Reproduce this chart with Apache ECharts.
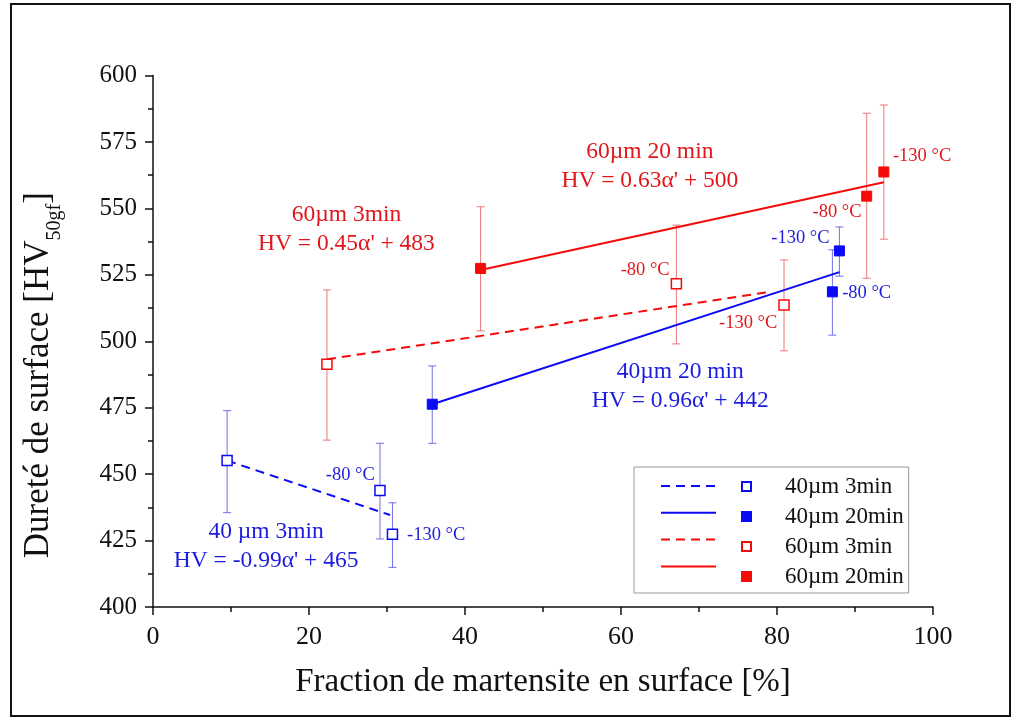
<!DOCTYPE html>
<html>
<head>
<meta charset="utf-8">
<script src="https://cdn.jsdelivr.net/npm/echarts@6/dist/echarts.min.js"></script>
<style>
  html, body { margin: 0; padding: 0; background: #fff; }
  #chart { width: 1016px; height: 723px; }
</style>
</head>
<body>
<div id="chart"></div>
<script>
// measured points: x = martensite fraction (%), y = hardness, lo/hi = error bar ends
const blue3X = [9.5, 29.1, 30.7];
const blue3Y = [455.1, 443.8, 427.4];
const blue3Lo = [435.5, 425.6, 414.9];
const blue3Hi = [473.9, 461.6, 439.2];

const blue20X = [35.8, 87.1, 88.0];
const blue20Y = [476.3, 518.6, 534.0];
const blue20Lo = [461.6, 502.3, 524.5];
const blue20Hi = [490.7, 534.4, 543.0];

const red3X = [22.3, 67.1, 80.9];
const red3Y = [491.3, 521.6, 513.6];
const red3Lo = [462.8, 499.0, 496.4];
const red3Hi = [519.3, 543.7, 530.6];

const red20X = [42.0, 91.5, 93.7];
const red20Y = [527.4, 554.6, 563.7];
const red20Lo = [503.9, 523.7, 538.4];
const red20Hi = [550.6, 585.8, 588.9];

// fit line end points
const fitBlue3 = [[9.5, 455.1], [30.4, 434.6]];
const fitBlue20 = [[35.8, 476.3], [88.0, 526.0]];
const fitRed3 = [[22.3, 493.2], [79.1, 518.6]];
const fitRed20 = [[42.0, 526.8], [93.7, 559.8]];

// annotations [x, y, text]
const blueNotes = [
  [14.5, 422.8, '40 µm 3min\nHV = -0.99α\' + 465'],
  [67.6, 483.2, '40µm 20 min\nHV = 0.96α\' + 442']
];
const redNotes = [
  [24.8, 542.2, '60µm 3min\nHV = 0.45α\' + 483'],
  [63.7, 565.7, '60µm 20 min\nHV = 0.63α\' + 500']
];
const blueTemps = [
  [25.3, 449.7, '-80 °C'],
  [36.3, 427.1, '-130 °C'],
  [83.0, 538.7, '-130 °C'],
  [91.5, 518.0, '-80 °C']
];
const redTemps = [
  [63.1, 526.8, '-80 °C'],
  [76.3, 506.8, '-130 °C'],
  [87.7, 548.7, '-80 °C'],
  [98.6, 569.5, '-130 °C']
];

const xTicks = [0, 20, 40, 60, 80, 100];
const yTicks = [400, 425, 450, 475, 500, 525, 550, 575, 600];

const seriesNames = ['40µm 3min', '40µm 20min', '60µm 3min', '60µm 20min'];

const FONT = "'Liberation Serif', 'Times New Roman', serif";
const BLUE = '#0a0af5';
const RED = '#f50a0a';
const BLUE_TXT = '#1c1cdc';
const RED_TXT = '#e2161a';
const BLUE_ERR = '#7070e6';
const RED_ERR = '#ea7878';

let chart = echarts.init(document.getElementById('chart'), null, { renderer: 'canvas' });

let errorBars = (xs, lo, hi, color) => ({
  type: 'custom',
  z: 1,
  silent: true,
  data: xs.map((x, i) => [x, lo[i], hi[i]]),
  encode: { x: 0, y: [1, 2] },
  renderItem: (params, api) => {
    let top = api.coord([api.value(0), api.value(2)]);
    let bot = api.coord([api.value(0), api.value(1)]);
    let w = 4;
    let st = { stroke: color, lineWidth: 1 };
    return {
      type: 'group',
      children: [
        { type: 'line', shape: { x1: top[0], y1: top[1], x2: bot[0], y2: bot[1] }, style: st },
        { type: 'line', shape: { x1: top[0] - w, y1: top[1], x2: top[0] + w, y2: top[1] }, style: st },
        { type: 'line', shape: { x1: bot[0] - w, y1: bot[1], x2: bot[0] + w, y2: bot[1] }, style: st }
      ]
    };
  }
});

let points = (name, xs, ys, color, open) => ({
  name: name,
  type: 'scatter',
  z: 4,
  symbol: 'rect',
  symbolSize: 10,
  data: xs.map((x, i) => [x, ys[i]]),
  itemStyle: open
    ? { color: '#fff', borderColor: color, borderWidth: 1.5, opacity: 1 }
    : { color: color, borderColor: color, borderWidth: 1, opacity: 1 }
});

let fitLine = (name, pts, color, dashed) => ({
  name: name,
  type: 'line',
  z: 3,
  symbol: 'none',
  silent: true,
  data: pts,
  lineStyle: { color: color, width: 2, type: dashed ? [9, 6] : 'solid' },
  itemStyle: { color: color }
});

let notes = (items, color, size, lh) => ({
  type: 'scatter',
  z: 5,
  silent: true,
  symbolSize: 0,
  itemStyle: { opacity: 1 },
  data: items.map(d => ({ value: [d[0], d[1]], text: d[2] })),
  label: {
    show: true,
    position: 'inside',
    formatter: p => p.data.text,
    color: color,
    opacity: 1,
    fontFamily: FONT,
    fontSize: size,
    lineHeight: lh,
    align: 'center',
    verticalAlign: 'middle'
  }
});

let options = {
  backgroundColor: '#fff',
  animation: false,
  grid: { left: 153, right: 83, top: 75.5, bottom: 116 },
  xAxis: {
    type: 'value',
    min: 0,
    max: 100,
    interval: 20,
    name: 'Fraction de martensite en surface [%]',
    nameLocation: 'middle',
    nameGap: 59,
    nameTextStyle: { fontFamily: FONT, fontSize: 33, color: '#111' },
    axisLine: { lineStyle: { color: '#111', width: 1.5 } },
    axisTick: { inside: false, length: 8, lineStyle: { color: '#111', width: 1.5 } },
    minorTick: { show: true, splitNumber: 2, length: 5, lineStyle: { color: '#111', width: 1.5 } },
    splitLine: { show: false },
    axisLabel: {
      margin: 17,
      fontFamily: FONT,
      fontSize: 26,
      color: '#111',
      formatter: v => (xTicks.includes(v) ? String(v) : '')
    }
  },
  yAxis: {
    type: 'value',
    min: 400,
    max: 600,
    interval: 25,
    name: '{a|Dureté de surface [HV}{s|50gf}{a|]}',
    nameLocation: 'middle',
    nameGap: 88,
    nameRotate: 90,
    nameTextStyle: {
      color: '#111',
      padding: [0, 68, 0, 0],
      rich: {
        a: { fontFamily: FONT, fontSize: 35, color: '#111', verticalAlign: 'bottom', padding: [0, 0, 9, 0] },
        s: { fontFamily: FONT, fontSize: 20, color: '#111', verticalAlign: 'bottom' }
      }
    },
    axisLine: { show: true, lineStyle: { color: '#111', width: 1.5 } },
    axisTick: { show: true, inside: false, length: 8, lineStyle: { color: '#111', width: 1.5 } },
    minorTick: { show: true, splitNumber: 2, length: 5, lineStyle: { color: '#111', width: 1.5 } },
    splitLine: { show: false },
    axisLabel: {
      margin: 16,
      fontFamily: FONT,
      fontSize: 25,
      color: '#111',
      formatter: v => (yTicks.includes(v) ? String(v) : '')
    }
  },
  legend: [
    {
      // squares + names, box drawn round both legends
      orient: 'vertical',
      left: 634,
      top: 467,
      padding: [8, 5, 5, 107],
      itemWidth: 9,
      itemHeight: 9,
      itemGap: 7,
      borderColor: '#999',
      borderWidth: 1,
      selectedMode: false,
      data: seriesNames,
      textStyle: { fontFamily: FONT, fontSize: 23, lineHeight: 22, color: '#111', padding: [0, 0, 0, 29] }
    },
    {
      // line samples
      orient: 'vertical',
      left: 660,
      top: 475,
      padding: 0,
      itemWidth: 55,
      itemHeight: 22,
      itemGap: 7,
      selectedMode: false,
      data: seriesNames.map(n => 'fit ' + n),
      formatter: () => '',
      itemStyle: { opacity: 0 },
      textStyle: { fontSize: 1 }
    }
  ],
  graphic: [
    {
      type: 'rect',
      silent: true,
      shape: { x: 11, y: 4, width: 999, height: 712 },
      style: { fill: 'none', stroke: '#111', lineWidth: 2 }
    }
  ],
  series: [
    errorBars(blue3X, blue3Lo, blue3Hi, BLUE_ERR),
    errorBars(blue20X, blue20Lo, blue20Hi, BLUE_ERR),
    errorBars(red3X, red3Lo, red3Hi, RED_ERR),
    errorBars(red20X, red20Lo, red20Hi, RED_ERR),
    fitLine('fit 40µm 3min', fitBlue3, BLUE, true),
    fitLine('fit 40µm 20min', fitBlue20, BLUE, false),
    fitLine('fit 60µm 3min', fitRed3, RED, true),
    fitLine('fit 60µm 20min', fitRed20, RED, false),
    points('40µm 3min', blue3X, blue3Y, BLUE, true),
    points('40µm 20min', blue20X, blue20Y, BLUE, false),
    points('60µm 3min', red3X, red3Y, RED, true),
    points('60µm 20min', red20X, red20Y, RED, false),
    notes(blueNotes, BLUE_TXT, 23.5, 29),
    notes(redNotes, RED_TXT, 23.5, 29),
    notes(blueTemps, BLUE_TXT, 18.5, 20),
    notes(redTemps, RED_TXT, 18.5, 20)
  ]
};

chart.setOption(options);
window.addEventListener('resize', () => {
  chart?.resize();
});
</script>
</body>
</html>
